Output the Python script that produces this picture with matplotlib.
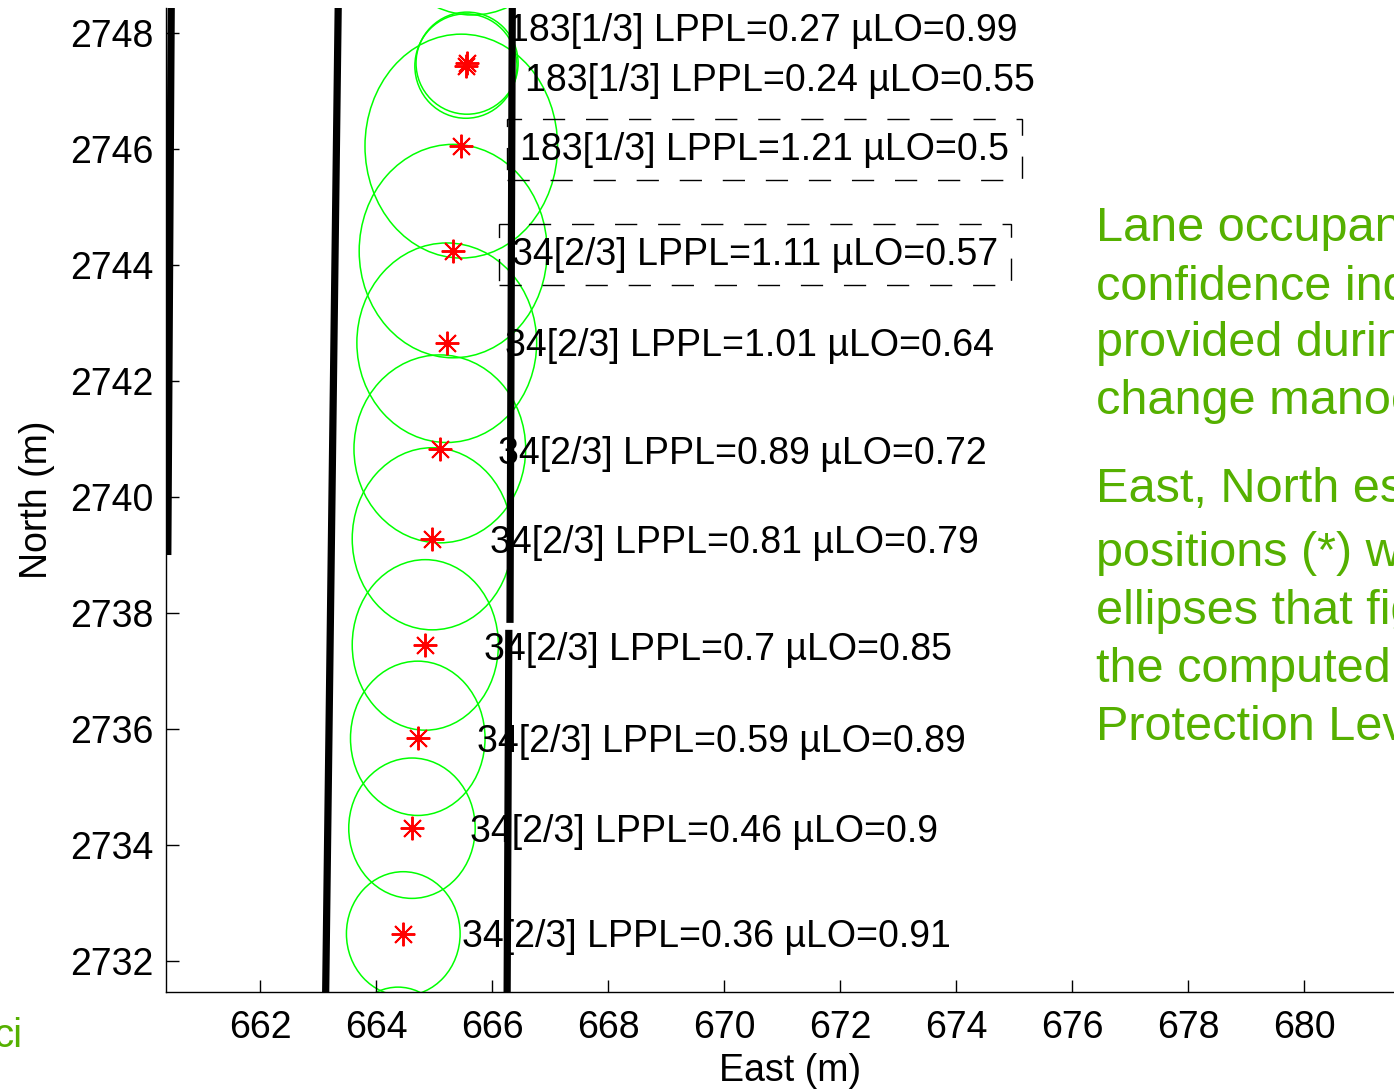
import matplotlib
matplotlib.use("Agg")
import matplotlib.pyplot as plt
from matplotlib.patches import Ellipse
from matplotlib.transforms import Bbox, TransformedBbox

plt.rcParams['font.family'] = ['Liberation Sans', 'DejaVu Sans']

# estimated positions (East, North) in metres and protection ellipse semi-axes
east = [665.66, 665.57, 665.55, 665.47, 665.33, 665.22, 665.10, 664.97,
        664.85, 664.72, 664.62, 664.47, 664.38]
north = [2750.24, 2747.48, 2747.43, 2746.05, 2744.24, 2742.66, 2740.83,
         2739.28, 2737.45, 2735.84, 2734.29, 2732.47, 2730.57]
semi_e = [1.66, 0.88, 0.88, 1.66, 1.62, 1.55, 1.48, 1.38, 1.26, 1.16, 1.09, 0.98, 0.90]
semi_n = [1.93, 0.88, 0.90, 1.93, 1.84, 1.72, 1.62, 1.57, 1.47, 1.33, 1.21, 1.07, 0.98]

# lane occupancy labels
labels = ['183[1/3] LPPL=0.27 \u00b5LO=0.99',
          '183[1/3] LPPL=0.24 \u00b5LO=0.55',
          '183[1/3] LPPL=1.21 \u00b5LO=0.5',
          '34[2/3] LPPL=1.11 \u00b5LO=0.57',
          '34[2/3] LPPL=1.01 \u00b5LO=0.64',
          '34[2/3] LPPL=0.89 \u00b5LO=0.72',
          '34[2/3] LPPL=0.81 \u00b5LO=0.79',
          '34[2/3] LPPL=0.7 \u00b5LO=0.85',
          '34[2/3] LPPL=0.59 \u00b5LO=0.89',
          '34[2/3] LPPL=0.46 \u00b5LO=0.9',
          '34[2/3] LPPL=0.36 \u00b5LO=0.91']
label_east = [666.28, 666.57, 666.48, 666.34, 666.22, 666.10, 665.97, 665.86, 665.74, 665.62, 665.48]
label_north = [2748.04, 2747.18, 2745.99, 2744.18, 2742.60, 2740.75, 2739.20, 2737.37, 2735.78, 2734.23, 2732.41]
boxed = [2, 3]

# lane boundary segments (east pair, north pair)
lane_e = [(660.47, 660.41), (663.35, 663.13), (666.35, 666.31), (666.29, 666.26)]
lane_n = [(2748.6, 2739.0), (2748.6, 2731.3), (2748.6, 2737.83), (2737.71, 2731.3)]

side_text1 = ['Lane occupancy', 'confidence indexes', 'provided during a lane', 'change manoeuvre']
side_text2 = ['East, North estimated', 'positions (*) with', 'ellipses that figure',
              'the computed', 'Protection Levels']

W, H = 1394, 1089
fig = plt.figure(figsize=(W / 100, H / 100), dpi=100)
ax = fig.add_axes([166 / W, 97 / H, 1248 / W, 984 / H])

for e, n in zip(lane_e, lane_n):
    ax.plot(e, n, color='black', lw=5.2, solid_capstyle='butt')

for e, n, a, b in zip(east, north, semi_e, semi_n):
    ax.add_patch(Ellipse((e, n), 2 * a, 2 * b, fill=False, ec='#00ff00', lw=1.1))

ax.plot(east, north, ls='none', marker=(8, 2, 0), ms=17, mew=1.4, color='#ff0000')

for i, (s, e, n) in enumerate(zip(labels, label_east, label_north)):
    kw = {}
    if i in boxed:
        kw['bbox'] = dict(boxstyle='square,pad=0.34', fc='none', ec='black',
                          lw=1.0, ls=(0, (16, 15)))
    ax.text(e, n, s, fontsize=27, ha='left', va='center', color='black', **kw)

ax.set_xlim(660.379, 681.897)
ax.set_ylim(2731.466, 2748.431)
ax.set_xticks(range(662, 682, 2))
ax.set_yticks(range(2732, 2749, 2))
ax.tick_params(direction='in', length=9, width=1, labelsize=27, colors='black')
ax.tick_params(axis='x', pad=13)
ax.tick_params(axis='y', pad=9)
ax.spines['top'].set_visible(False)
ax.spines['right'].set_visible(False)
ax.spines['left'].set_linewidth(1)
ax.spines['bottom'].set_linewidth(1)
ax.set_xlabel('East (m)', fontsize=27, labelpad=5)
ax.set_ylabel('North (m)', fontsize=27, labelpad=11)

green = '#55b000'
for s, y in zip(side_text1, [229, 287, 344, 402]):
    fig.text(1096 / W, 1 - y / H, s, fontsize=35, color=green, ha='left', va='center')
for s, y in zip(side_text2, [489, 554, 612, 670, 728]):
    fig.text(1096 / W, 1 - y / H, s, fontsize=35, color=green, ha='left', va='center')

t = fig.text(-7 / W, 1 - 1036 / H, 'cial', fontsize=29, color=green, ha='left', va='center')
t.set_clip_box(TransformedBbox(Bbox([[0, 0], [20 / W, 1]]), fig.transFigure))
t.set_clip_on(True)

fig.savefig('out.png', dpi=100)
